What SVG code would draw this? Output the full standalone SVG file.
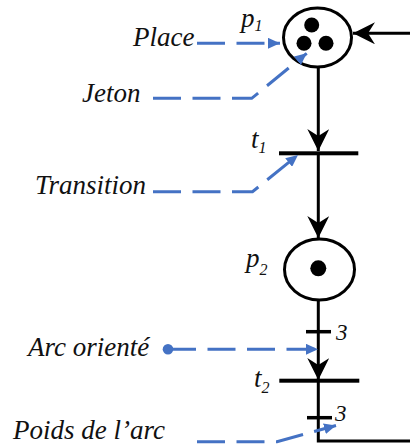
<svg xmlns="http://www.w3.org/2000/svg" width="410" height="445" viewBox="0 0 410 445">
<style>
.lbl{font-family:'Liberation Serif','DejaVu Serif',serif;font-style:italic;font-size:27px;fill:#111}
.sub{font-size:16px}
.num{font-family:'Liberation Serif','DejaVu Serif',serif;font-style:italic;font-size:23px;fill:#111}
.place{fill:#fff;stroke:#000;stroke-width:3}
.tok{fill:#000}
.bar{fill:#000}
.arc{fill:none;stroke:#000;stroke-width:3}
.tick{stroke:#000;stroke-width:3.5}
.ptr{fill:none;stroke:#4472C4;stroke-width:3;stroke-dasharray:28 11.5}
</style>
<defs>
<marker id="blk" viewBox="0 0 22 22" refX="22" refY="11" markerWidth="22" markerHeight="22" markerUnits="userSpaceOnUse" orient="auto">
<path d="M0,0 L22,11 L0,22 L7,11 z" fill="#000"/>
</marker>
<marker id="blu" viewBox="0 0 12 11" refX="12" refY="5.5" markerWidth="12" markerHeight="11" markerUnits="userSpaceOnUse" orient="auto">
<path d="M0,0 L12,5.5 L0,11 z" fill="#4472C4"/>
</marker>
</defs>

<g id="connectors">
<line class="arc" x1="410" y1="33.3" x2="353" y2="33.3" marker-end="url(#blk)"/>
<line class="arc" x1="318.3" y1="67" x2="318.3" y2="151" marker-end="url(#blk)"/>
<line class="arc" x1="318.3" y1="153" x2="318.3" y2="238" marker-end="url(#blk)"/>
<line class="arc" x1="318.3" y1="300" x2="318.3" y2="380" marker-end="url(#blk)"/>
<polyline class="arc" points="318.3,381 318.3,441 410,441"/>
<line class="tick" x1="306" y1="331.7" x2="331" y2="331.7"/>
<line class="tick" x1="307" y1="417.7" x2="332" y2="417.7"/>
<text class="num" x="336" y="339.5">3</text>
<text class="num" x="335" y="421">3</text>
</g>

<g id="p1">
<ellipse class="place" cx="317.5" cy="37.5" rx="34" ry="29.5"/>
<circle class="tok" cx="311.7" cy="25" r="7.5"/>
<circle class="tok" cx="304" cy="43.3" r="7.5"/>
<circle class="tok" cx="326" cy="43.3" r="7.5"/>
<text class="lbl" x="241" y="27">p<tspan class="sub" dy="4">1</tspan></text>
</g>

<g id="t1">
<rect class="bar" x="279" y="151.3" width="79.3" height="4"/>
<text class="lbl" x="251" y="148">t<tspan class="sub" dy="5">1</tspan></text>
</g>

<g id="p2">
<ellipse class="place" cx="319.5" cy="269.5" rx="35" ry="30.5"/>
<circle class="tok" cx="318.3" cy="268.3" r="8"/>
<text class="lbl" x="246" y="267">p<tspan class="sub" dy="8">2</tspan></text>
</g>

<g id="t2">
<rect class="bar" x="279.3" y="378.7" width="80" height="4"/>
<text class="lbl" x="254" y="387">t<tspan class="sub" dy="6">2</tspan></text>
</g>

<g id="annotations">
<text class="lbl" x="133" y="46">Place</text>
<path class="ptr" d="M197,43.3 H280" marker-end="url(#blu)"/>
<text class="lbl" x="82" y="102">Jeton</text>
<path class="ptr" d="M153,98.3 H251.7 L306.7,53.3" marker-end="url(#blu)"/>
<text class="lbl" x="35" y="193.5">Transition</text>
<path class="ptr" d="M153,191.7 H252.5 L298,155" marker-end="url(#blu)"/>
<text class="lbl" x="28" y="356">Arc orienté</text>
<circle cx="168" cy="349.3" r="5.3" fill="#4472C4"/>
<path class="ptr" d="M168,349.3 H318" marker-end="url(#blu)"/>
<text class="lbl" x="13" y="438.5">Poids de l’arc</text>
<path class="ptr" d="M197,441.7 H277 L336,425.5" marker-end="url(#blu)"/>
</g>
</svg>
